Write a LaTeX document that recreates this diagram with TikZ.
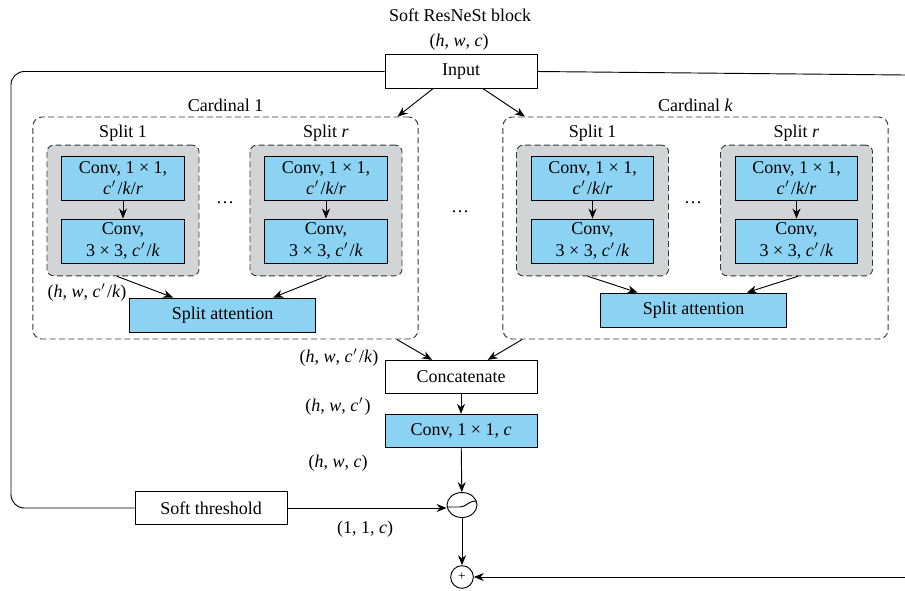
\documentclass[tikz,border=0pt]{standalone}
\usepackage{fontspec}
\setmainfont{Liberation Serif}
\usetikzlibrary{arrows.meta,shapes.geometric}
\definecolor{convblue}{RGB}{140,210,242}
\definecolor{splitgray}{RGB}{211,212,213}
\definecolor{dashgray}{RGB}{55,55,55}
\newcommand{\cpr}{\textit{c}\kern0.6pt$'$\kern1.2pt}

\begin{document}
\begin{tikzpicture}[
        x=0.75pt, y=-0.75pt,
        font=\fontsize{13.5}{15}\selectfont,
        line width=0.7pt,
        arr/.style={-{Stealth[length=7.5pt,width=6pt]}},
        plainbox/.style={draw, fill=white, minimum width=114pt, minimum height=25pt, inner sep=1pt},
        convbox/.style={draw, fill=convblue, minimum width=92pt, minimum height=33pt, inner sep=0.5pt, align=center, font=\fontsize{13.5}{16}\selectfont},
        attbox/.style={draw, fill=convblue, minimum width=140pt, minimum height=25.5pt},
        splitbox/.style={draw=dashgray, fill=splitgray, dash pattern=on 4.5pt off 2.5pt, rounded corners=5pt, minimum width=114pt, minimum height=98pt},
        cardbox/.style={draw=dashgray, dash pattern=on 4.5pt off 2.5pt, rounded corners=7pt, minimum width=289pt, minimum height=166.5pt}
    ]
    \useasboundingbox (0,0) rectangle (905,590);

    % top
    \node (ttl) at (460,15) {Soft ResNeSt block};
    \node (d0) at (459,42) {(\textit{h}, \textit{w}, \textit{c})};
    \node[plainbox] (inp) at (461,71.5) {Input};

    % cardinals
    \node[cardbox] (card1) at (225.5,228) {};
    \node[cardbox] (cardk) at (695.5,228) {};
    \node (cl1) at (225.5,105) {Cardinal 1};
    \node (clk) at (695.5,105) {Cardinal \textit{k}};
    \node (dt0) at (460,212) {\dots};

    \foreach \nm/\cx/\sl in {a/123/1, b/326/{\textit{r}}, c/592.5/1, d/796.5/{\textit{r}}} {
        \node[splitbox] (sp\nm) at (\cx,210.5) {};
        \node (sl\nm) at (\cx,133) {Split \sl};
        \node[convbox] (ca\nm) at (\cx,178) {Conv, 1 × 1,\\ \cpr/\textit{k}/\textit{r}};
        \node[convbox] (cb\nm) at (\cx,241) {Conv,\\ 3 × 3, \cpr/\textit{k}};
        \draw[arr] (ca\nm) -- (cb\nm);
    }
    \node (dt1) at (225,203) {\dots};
    \node (dt2) at (693,203) {\dots};

    \node[attbox] (att1) at (222.5,315) {Split attention};
    \node[attbox] (attk) at (693.5,310) {Split attention};
    \node (d1) at (87,293) {(\textit{h}, \textit{w}, \cpr/\textit{k})};

    \draw[arr] ([xshift=-4.5pt]spa.south) -- ([xshift=-37pt]att1.north);
    \draw[arr] (spb.south) -- ([xshift=38pt]att1.north);
    \draw[arr] ([xshift=-3.5pt]spc.south) -- ([xshift=-42pt]attk.north);
    \draw[arr] ([xshift=1pt]spd.south) -- ([xshift=40pt]attk.north);

    \draw[arr] ([xshift=-21pt]inp.south) -- ([xshift=129pt]card1.north);
    \draw[arr] ([xshift=16.5pt]inp.south) -- ([xshift=-128pt]cardk.north);

    % merge
    \node[plainbox] (cat) at (461,377) {Concatenate};
    \node[plainbox, fill=convblue] (cv) at (461,431) {Conv, 1 × 1, \textit{c}};
    \node (d2) at (339,358) {(\textit{h}, \textit{w}, \cpr/\textit{k})};
    \node (d3) at (338,407) {(\textit{h}, \textit{w}, \cpr)};
    \node (d4) at (338,463) {(\textit{h}, \textit{w}, \textit{c})};
    \draw[arr] ([xshift=128.5pt]card1.south) -- ([xshift=-21.75pt]cat.north);
    \draw[arr] ([xshift=-130pt]cardk.south) -- ([xshift=20pt]cat.north);
    \draw[arr] (cat) -- (cv);

    % threshold and sum
    \node[ellipse, draw, minimum width=22.5pt, minimum height=18.75pt, inner sep=0pt] (sth) at (462,505) {};
    \draw (447.5,507) -- (460,507) .. controls (466,507) and (468,501) .. (476.5,501);
    \node[plainbox] (st) at (211,508) {Soft threshold};
    \node (d5) at (365,529) {(1, 1, \textit{c})};
    \node[circle, draw, minimum size=17pt, inner sep=0pt, font=\fontsize{10}{10}\selectfont] (pls) at (462,577) {+};
    \coordinate (lft) at (11,300);
    \coordinate (rgt1) at (905,75);
    \coordinate (rgt2) at (905,577);

    \draw[rounded corners=10pt] (inp.west) -| (lft) |- (st.west);
    \draw (inp.east) -- (rgt1);
    \draw[arr] (cv) -- (sth);
    \draw[arr] (st.east) -- (st.east -| sth.west);
    \draw[arr] (sth) -- (pls);
    \draw[arr] (rgt2) -- (pls);
\end{tikzpicture}
\end{document}
